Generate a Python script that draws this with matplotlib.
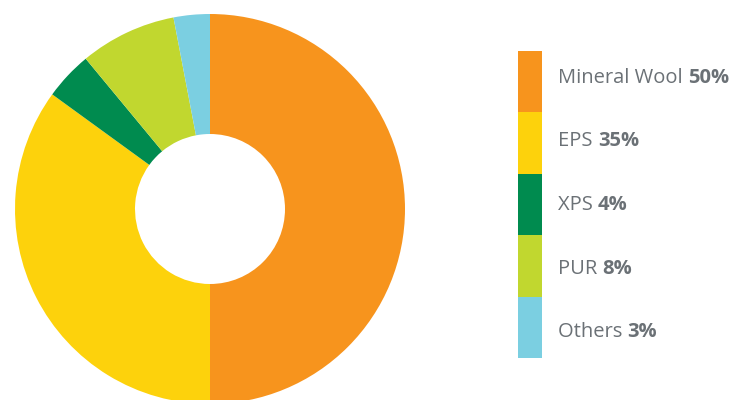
import matplotlib.pyplot as plt
from matplotlib.patches import Rectangle

labels = ["Mineral Wool", "EPS", "XPS", "PUR", "Others"]
shares = [50, 35, 4, 8, 3]
colors = ["#F7941D", "#FDD20C", "#008B4F", "#C1D72F", "#7BCFE1"]

plt.rcParams["font.family"] = ["Open Sans", "DejaVu Sans"]
text_color = "#6B7176"

fig = plt.figure(figsize=(7.43, 4.0), dpi=100)

# donut: centre (210, 209) px, radius 195 px
W, H = 743, 400
cx, cy, r = 210, 209, 195
ax = fig.add_axes([(cx - r) / W, (H - cy - r) / H, 2 * r / W, 2 * r / H])
ax.pie(shares, colors=colors, startangle=90, counterclock=False, radius=1,
       wedgeprops=dict(width=120 / 195, linewidth=0))
ax.set_xlim(-1, 1)
ax.set_ylim(-1, 1)
ax.axis("off")

# legend drawn in pixel coordinates
lax = fig.add_axes([0, 0, 1, 1])
lax.set_xlim(0, W)
lax.set_ylim(H, 0)
lax.axis("off")

top, row_h = 51, 61.4
for i, (lab, val, col) in enumerate(zip(labels, shares, colors)):
    y0 = top + i * row_h
    lax.add_patch(Rectangle((518, y0), 24, row_h, facecolor=col, edgecolor="none"))
    t = lax.text(558, 78 + i * 63.5, lab + " ", fontsize=14.5, color=text_color,
                 va="center")
    lax.annotate(f"{val}%", xy=(1, 0.5), xycoords=t, va="center", ha="left",
                 fontsize=14.5, fontweight="bold", color=text_color)

fig.savefig("out.png", dpi=100)
